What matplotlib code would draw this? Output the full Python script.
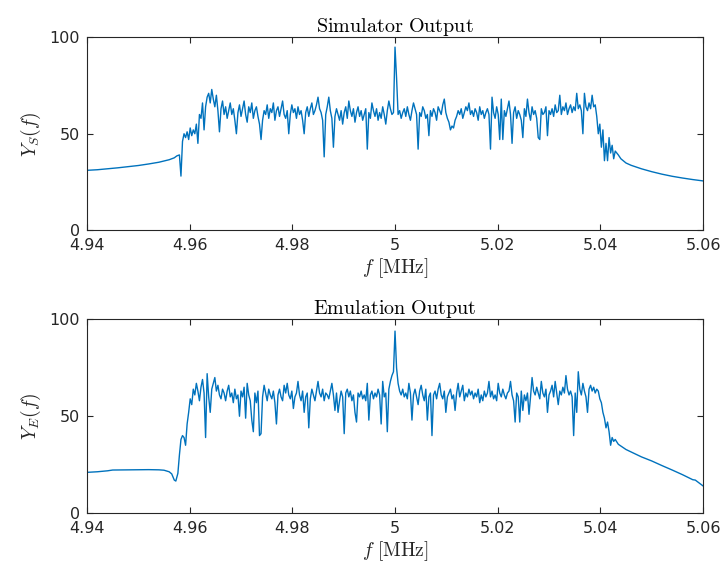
import numpy as np
import matplotlib
matplotlib.use('Agg')
import matplotlib.pyplot as plt
from matplotlib.ticker import FormatStrFormatter

plt.rcParams['mathtext.fontset'] = 'cm'
plt.rcParams['font.family'] = 'DejaVu Sans'

# frequency grid of the noisy band [MHz]
band_start = 4.958
band_step = 0.0003

# --- Simulator output ---
sim_left_f = [4.940, 4.942, 4.944, 4.946, 4.948, 4.950, 4.952, 4.954, 4.956, 4.957, 4.9575]
sim_left_y = [31.0, 31.3, 31.8, 32.3, 32.9, 33.5, 34.3, 35.2, 36.5, 37.5, 38.5]
sim_band_y = [
    39, 28, 46, 50, 48, 51, 47, 53, 49, 52,
    50, 55, 45, 60, 58, 66, 52, 64, 69, 71,
    66, 73, 68, 64, 70, 62, 51, 63, 67, 60,
    64, 58, 62, 66, 60, 63, 57, 50, 61, 65,
    59, 63, 67, 60, 56, 64, 61, 66, 58, 62,
    64, 59, 55, 47, 57, 62, 60, 65, 58, 63,
    61, 66, 57, 62, 64, 59, 63, 67, 60, 58,
    62, 50, 60, 65, 61, 63, 58, 64, 60, 62,
    57, 50, 61, 64, 59, 63, 66, 60, 62, 65,
    69, 63, 61, 57, 38, 60, 64, 69, 62, 58,
    43, 59, 63, 60, 57, 62, 55, 61, 64, 58,
    67, 62, 59, 63, 56, 61, 64, 59, 62, 57,
    60, 63, 42, 61, 58, 66, 62, 59, 63, 57,
    61, 58, 64, 60, 55, 62, 67, 63, 60, 61,
    95, 79, 60, 62, 58, 61, 63, 59, 64, 60,
    57, 62, 66, 63, 60, 42, 61, 59, 64, 62,
    58, 60, 49, 62, 59, 63, 61, 57, 64, 62,
    60, 65, 68, 61, 58, 56, 52, 54, 53, 57,
    59, 62, 60, 63, 58, 61, 64, 62, 66, 60,
    62, 59, 63, 61, 57, 64, 60, 62, 58, 61,
    63, 60, 42, 69, 61, 58, 64, 60, 47, 68,
    47, 62, 59, 63, 67, 60, 45, 61, 64, 58,
    62, 60, 57, 48, 63, 59, 68, 61, 57, 64,
    60, 62, 58, 48, 47, 63, 60, 61, 64, 49,
    62, 60, 63, 59, 65, 61, 62, 70, 60, 64,
    62, 66, 60, 63, 65, 61, 64, 62, 71, 63,
    65, 62, 50, 71, 64, 62, 66, 63, 70, 64,
    65, 59, 50, 55, 43, 52, 36, 45, 36, 48,
    40, 44, 37, 41,
]
sim_right_f = [5.0435, 5.044, 5.045, 5.046, 5.048, 5.050, 5.052, 5.054, 5.056, 5.058, 5.060]
sim_right_y = [39.0, 37.0, 34.8, 33.6, 31.8, 30.3, 29.0, 27.9, 27.0, 26.2, 25.5]

# --- Emulation output ---
emu_left_f = [4.940, 4.942, 4.944, 4.945, 4.948, 4.950, 4.952, 4.954, 4.955, 4.956,
              4.9565, 4.957, 4.9573, 4.9577]
emu_left_y = [21.0, 21.3, 21.8, 22.2, 22.3, 22.4, 22.4, 22.3, 22.1, 21.3,
              20.2, 17.0, 16.5, 20.5]
emu_band_y = [
    30, 38, 40, 39, 35, 46, 52, 59, 56, 64,
    61, 67, 63, 58, 65, 69, 62, 39, 72, 60,
    52, 64, 67, 70, 63, 66, 61, 59, 64, 62,
    58, 63, 66, 60, 62, 57, 64, 59, 61, 50,
    63, 60, 65, 49, 67, 61, 58, 48, 42, 62,
    57, 63, 40, 41, 60, 66, 62, 58, 64, 61,
    59, 63, 57, 46, 61, 64, 60, 58, 66, 62,
    67, 61, 59, 63, 54, 60, 62, 68, 61, 58,
    63, 52, 60, 62, 44, 59, 64, 61, 58, 63,
    68, 62, 60, 64, 58, 62, 61, 59, 63, 67,
    61, 53, 62, 52, 58, 63, 60, 41, 62, 64,
    60, 63, 58, 61, 52, 47, 62, 60, 63, 59,
    61, 58, 67, 48, 61, 63, 59, 62, 60, 64,
    61, 46, 68, 60, 62, 42, 64, 68, 71, 73,
    94, 75, 67, 63, 61, 64, 60, 62, 59, 67,
    62, 48, 61, 64, 60, 56, 63, 66, 61, 58,
    64, 48, 60, 62, 40, 61, 63, 59, 64, 67,
    61, 59, 63, 52, 60, 62, 64, 59, 61, 53,
    62, 67, 60, 63, 66, 58, 62, 60, 64, 61,
    63, 59, 62, 60, 64, 57, 61, 58, 63, 60,
    62, 68, 60, 63, 59, 61, 58, 67, 62, 60,
    64, 61, 59, 62, 63, 68, 61, 58, 47, 62,
    60, 47, 63, 53, 61, 58, 62, 51, 60, 70,
    63, 61, 65, 62, 59, 68, 62, 60, 64, 52,
    61, 63, 66, 60, 68, 62, 56, 63, 61, 65,
    62, 71, 64, 61, 63, 60, 40, 62, 52, 73,
    64, 61, 67, 63, 60, 52, 64, 66, 63, 65,
    62, 64, 63, 59, 57, 52, 49, 44, 47, 42,
    35, 39, 37, 38,
]
emu_right_f = [5.0435, 5.045, 5.0465, 5.048, 5.050, 5.052, 5.054, 5.056, 5.058, 5.0585, 5.060]
emu_right_y = [35.5, 32.8, 30.9, 29.0, 26.9, 24.5, 22.2, 19.8, 17.2, 17.0, 14.0]


def full_curve(left_f, left_y, band_y, right_f, right_y):
    band_f = band_start + band_step * np.arange(len(band_y))
    f = np.concatenate([left_f, band_f, right_f])
    y = np.concatenate([left_y, band_y, right_y])
    return f, y


panels = [
    ('Simulator Output', r'$Y_S(f)$', full_curve(sim_left_f, sim_left_y, sim_band_y, sim_right_f, sim_right_y)),
    ('Emulation Output', r'$Y_E(f)$', full_curve(emu_left_f, emu_left_y, emu_band_y, emu_right_f, emu_right_y)),
]

fig = plt.figure(figsize=(7.27, 5.74), dpi=100)
positions = [[0.1197, 0.5993, 0.8473, 0.3354], [0.1197, 0.1063, 0.8473, 0.3371]]
dark = '#262626'

for pos, (title, ylab, (f, y)) in zip(positions, panels):
    ax = fig.add_axes(pos)
    ax.plot(f, y, color='#0072BD', lw=1.0)
    ax.set_xlim(4.94, 5.06)
    ax.set_ylim(0, 100)
    ax.set_xticks(np.arange(4.94, 5.0601, 0.02))
    ax.set_yticks([0, 50, 100])
    ax.xaxis.set_major_formatter(FormatStrFormatter('%g'))
    ax.tick_params(direction='in', length=4, width=0.8, colors=dark,
                   labelsize=11.5, top=True, right=True)
    ax.tick_params(axis='x', pad=6)
    ax.tick_params(axis='y', pad=5)
    for s in ax.spines.values():
        s.set_color(dark)
        s.set_linewidth(0.8)
    title_words = title.replace(' ', r'\ ')
    ax.set_title(r'$\mathrm{' + title_words + '}$', fontsize=14.5, pad=4, color='black')
    ax.set_xlabel(r'$f\ [\mathrm{MHz}]$', fontsize=14, labelpad=2, color=dark)
    ax.set_ylabel(ylab, fontsize=14, labelpad=5, color=dark)

fig.savefig('out.png', dpi=100)
